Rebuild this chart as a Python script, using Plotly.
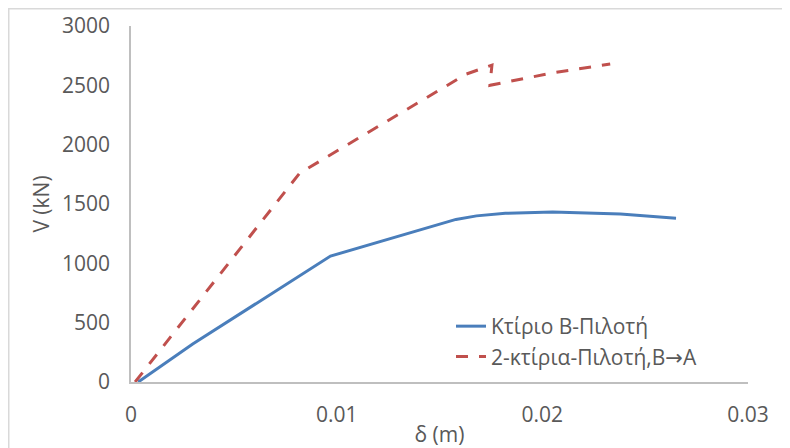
import plotly.graph_objects as go

# Data
blue_name = "Κτίριο Β-Πιλοτή"
blue_x = [0.00035, 0.0030, 0.0097, 0.0158, 0.0168, 0.0182, 0.0205, 0.0238, 0.0265]
blue_y = [0, 320, 1061, 1370, 1400, 1422, 1433, 1415, 1380]

red_name = "2-κτίρια-Πιλοτή,Β<span style='font-family:DejaVu Sans'>→</span>Α"
red_x = [0.0002, 0.0082, 0.0163, 0.01755, 0.01745, 0.0205, 0.0233]
red_y = [0, 1760, 2595, 2670, 2500, 2605, 2680]

x_ticks = [0, 0.01, 0.02, 0.03]
x_tick_labels = ["0", "0.01", "0.02", "0.03"]
y_ticks = [0, 500, 1000, 1500, 2000, 2500, 3000]

FONT = "Open Sans"
FS = 21
TXT = "#595959"

fig = go.Figure()
fig.add_trace(go.Scatter(x=blue_x, y=blue_y, mode="lines", name=blue_name,
                         line=dict(color="#4a7ebb", width=3)))
fig.add_trace(go.Scatter(x=red_x, y=red_y, mode="lines", name=red_name,
                         line=dict(color="#c0504d", width=3, dash="12px,11px")))

# page body has an 8px offset; positions below are in figure coordinates
L, R, T, B = 123, 50, 18, 74
W, H = 790, 448
pw, ph = W - L - R, H - T - B
y0px = H - B  # pixel row of the x axis

fig.update_layout(
    width=W, height=H,
    margin=dict(l=L, r=R, t=T, b=B, autoexpand=False),
    paper_bgcolor="white", plot_bgcolor="white",
    font=dict(family=FONT, size=FS, color=TXT),
    showlegend=True,
    legend=dict(x=(443 - L) / pw, y=(y0px - 298) / ph, xanchor="left", yanchor="top",
                bgcolor="rgba(0,0,0,0)", font=dict(family=FONT, size=FS, color=TXT),
                tracegroupgap=0),
    xaxis=dict(range=[0, 0.03], tickvals=x_ticks, ticktext=x_tick_labels,
               showgrid=False, zeroline=False, showline=True, linecolor="#bfbfbf", linewidth=1.5,
               ticks="", ticklabelstandoff=13,
               title=dict(text="δ (m)", standoff=0, font=dict(family=FONT, size=FS, color=TXT))),
    yaxis=dict(range=[0, 3000], tickvals=y_ticks,
               showgrid=False, zeroline=False, showline=True, linecolor="#bfbfbf", linewidth=1.5,
               ticks="", ticklabelstandoff=15,
               title=dict(text="V (kN)", standoff=7, font=dict(family=FONT, size=FS, color=TXT))),
    shapes=[dict(type="rect", xref="paper", yref="paper",
                 x0=(0.75 - L) / pw, x1=1.3, y0=-0.5, y1=(y0px - 0.75) / ph,
                 line=dict(color="#d9d9d9", width=1.5), fillcolor="rgba(0,0,0,0)", layer="below")],
)

fig.write_html("out.html")
